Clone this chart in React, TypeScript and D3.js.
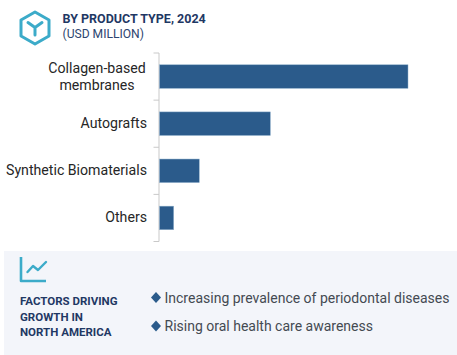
import React from "react";
import * as d3 from "d3";

const categories = ["Collagen-based\nmembranes", "Autografts", "Synthetic Biomaterials", "Others"];
const values = [100, 44.6, 16, 5.7];
const factors = ["Increasing prevalence of periodontal diseases", "Rising oral health care awareness"];
const factorTitle = ["FACTORS DRIVING", "GROWTH IN", "NORTH AMERICA"];

const FONT = "Roboto, sans-serif";
const NAVY = "#1f3864";
const BAR = "#2b5b8b";
const TEAL = "#3cabc9";

export default function App() {
  const x = d3.scaleLinear().domain([0, 100]).range([159.5, 408]);
  const y = d3.scaleBand<string>().domain(categories).range([53, 241.5]).paddingInner(0.5).paddingOuter(0.25);
  const tickYs = d3.range(categories.length + 1).map((i) => 53 + (i * (241.5 - 53)) / categories.length);
  return (
    <svg width={457} height={355} style={{ position: "fixed", left: 0, top: 0, display: "block" }} fontFamily={FONT}>
      <rect x={0} y={0} width={457} height={355} fill="#ffffff" />
      {/* header icon */}
      <path d="M35 12 L49 20 L49 36 L35 44 L21 36 L21 20 Z" fill="none" stroke={TEAL} strokeWidth={3} strokeLinejoin="round" />
      <path d="M28 22.5 L35 27.5 L42 22.5 M35 27.5 L35 35" fill="none" stroke={TEAL} strokeWidth={3} strokeLinecap="round" strokeLinejoin="round" />
      <text x={62.5} y={23} fontSize={12.5} fontWeight={700} fill={NAVY}>BY PRODUCT TYPE, 2024</text>
      <text x={62.5} y={38} fontSize={12.1} fill="#2d4570">(USD MILLION)</text>

      {/* axis */}
      <path
        d={`M153.5 ${tickYs[0]}H159V${tickYs[4]}H153.5 ${tickYs.slice(1, 4).map((t) => `M153.5 ${t}H159`).join(" ")}`}
        fill="none"
        stroke="#c9c9c9"
        strokeWidth={1}
      />
      {categories.map((c, i) => {
        const top = y(c)!;
        const lines = c.split("\n");
        const cy = top + y.bandwidth() / 2;
        return (
          <g key={c}>
            <rect x={x(0)} y={top} width={x(values[i]) - x(0)} height={y.bandwidth()} fill={BAR} stroke="#8fb0cc" strokeWidth={0.5} />
            {lines.map((l, j) => (
              <text key={l} x={147} y={cy + 4.5 + (j - (lines.length - 1) / 2) * 17} fontSize={14.15} fill="#262626" textAnchor={lines.length > 1 ? "middle" : "end"} dx={lines.length > 1 ? -50 : 0}>
                {l}
              </text>
            ))}
          </g>
        );
      })}

      {/* lower panel */}
      <rect x={4} y={251} width={453} height={104} fill="#f3f5fa" />
      <path d="M21 257 V281 H46" fill="none" stroke={TEAL} strokeWidth={2.6} strokeLinejoin="round" />
      <path d="M27.5 272 L33 266 L38 270 L46 262" fill="none" stroke={TEAL} strokeWidth={2.4} strokeLinejoin="round" strokeLinecap="round" />
      {factorTitle.map((t, i) => (
        <text key={t} x={20} y={305 + i * 15.6} fontSize={11.5} fontWeight={700} fill={NAVY}>{t}</text>
      ))}
      {factors.map((f, i) => {
        const cy = 297.5 + i * 28.5;
        return (
          <g key={f}>
            <path d={`M156 ${cy - 5.5} L161 ${cy} L156 ${cy + 5.5} L151 ${cy} Z`} fill={BAR} />
            <text x={164.5} y={cy + 5} fontSize={14} fill="#444a52">{f}</text>
          </g>
        );
      })}
    </svg>
  );
}
